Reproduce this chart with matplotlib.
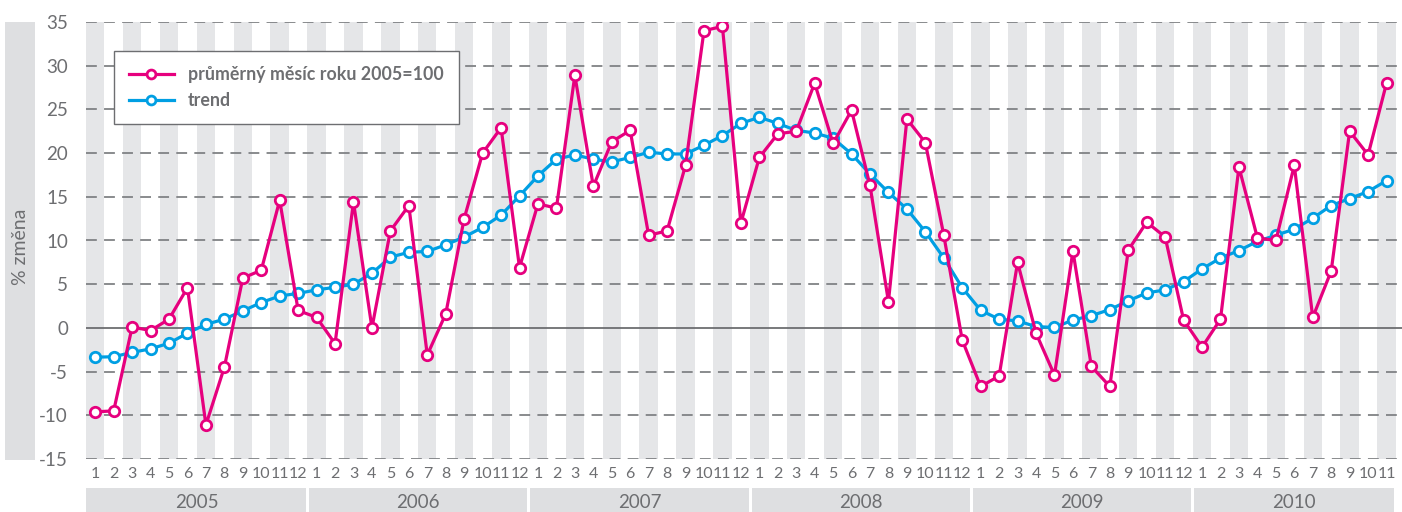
import matplotlib
matplotlib.use("Agg")
import matplotlib.pyplot as plt
from matplotlib.patches import Rectangle
from matplotlib.transforms import blended_transform_factory

years = ["2005", "2006", "2007", "2008", "2009", "2010"]
months_per_year = [12, 12, 12, 12, 12, 11]

index_series = [
    -9.6, -9.5, 0.1, -0.3, 1.0, 4.6, -11.1, -4.5, 5.7, 6.6, 14.6, 2.0,
    1.2, -1.8, 14.4, 0.0, 11.1, 14.0, -3.1, 1.6, 12.5, 20.0, 22.9, 6.9,
    14.2, 13.7, 28.9, 16.2, 21.3, 22.6, 10.6, 11.1, 18.6, 34.0, 34.5, 12.0,
    19.5, 22.2, 22.5, 28.0, 21.1, 24.9, 16.3, 3.0, 23.9, 21.2, 10.6, -1.4,
    -6.7, -5.5, 7.5, -0.6, -5.4, 8.8, -4.4, -6.7, 8.9, 12.1, 10.4, 0.9,
    -2.2, 1.0, 18.4, 10.3, 10.0, 18.6, 1.2, 6.5, 22.5, 19.8, 28.0,
]
trend_series = [
    -3.35, -3.3, -2.8, -2.4, -1.75, -0.6, 0.4, 1.0, 1.95, 2.9, 3.65, 3.95,
    4.35, 4.65, 5.0, 6.25, 8.1, 8.65, 8.75, 9.5, 10.4, 11.5, 12.9, 15.1,
    17.4, 19.3, 19.8, 19.3, 19.0, 19.5, 20.1, 19.9, 19.9, 20.9, 22.0, 23.4,
    24.1, 23.4, 22.6, 22.3, 21.7, 19.9, 17.6, 15.5, 13.6, 11.0, 8.0, 4.6,
    2.0, 1.0, 0.8, 0.15, 0.05, 0.9, 1.4, 2.1, 3.1, 4.0, 4.35, 5.3,
    6.75, 8.0, 8.85, 9.9, 10.6, 11.3, 12.55, 14.0, 14.8, 15.6, 16.85,
]
legend_labels = ["průměrný měsíc roku 2005=100", "trend"]
y_label = "% změna"

PINK = "#E6007E"
BLUE = "#009FE3"
STRIPE = "#E5E6E8"
BOX = "#DEDFE1"
TXT = "#6D6E71"

plt.rcParams['font.family'] = ['Lato', 'DejaVu Sans']

W, H = 1402, 512
fig = plt.figure(figsize=(W / 100, H / 100), dpi=100)
left, right, top, bottom = 86, 1402, 22, 459
ax = fig.add_axes([left / W, (H - bottom) / H, (right - left) / W, (bottom - top) / H])

n = len(index_series)
x = list(range(1, n + 1))
step = (1387 - 95.7) / 70.0
ax.set_xlim(0.5, 0.5 + (right - left) / step)
ax.set_ylim(-15, 35)

# stripes
for i in x:
    if i % 2 == 1:
        ax.axvspan(i - 0.5, i + 0.5, color=STRIPE, lw=0, zorder=0)

# gridlines
for yv in range(-15, 40, 5):
    if yv == 0:
        ax.axhline(yv, color="#6D6E71", lw=1.3, zorder=1)
    else:
        ax.axhline(yv, color="#808285", lw=1.3, dashes=(6, 4), zorder=1)

ax.plot(x, trend_series, color=BLUE, lw=2.3, marker="o", ms=7.5, mfc="white",
        mec=BLUE, mew=2.0, zorder=3, label=legend_labels[1])
ax.plot(x, index_series, color=PINK, lw=2.3, marker="o", ms=7.5, mfc="white",
        mec=PINK, mew=2.0, zorder=4, label=legend_labels[0])

for s in ax.spines.values():
    s.set_visible(False)

ax.set_yticks(range(-15, 40, 5))
ax.set_yticklabels([str(v) for v in range(-15, 40, 5)], fontsize=13.5, color=TXT)
ax.tick_params(axis="y", length=0, pad=13)

month_labels = []
for m in months_per_year:
    month_labels += [str(k) for k in range(1, m + 1)]
ax.set_xticks(x)
ax.set_xticklabels(month_labels, fontsize=11.5, color=TXT)
ax.tick_params(axis="x", length=0, pad=6)

# year boxes
tr = blended_transform_factory(ax.transData, fig.transFigure)
start = 0.5
for yr, m in zip(years, months_per_year):
    end = start + m
    gap = 0.08
    x0 = start + (gap if start > 0.5 else 0)
    x1 = end - gap
    fig.patches.append(Rectangle((x0, 0), x1 - x0, (H - 488) / H, transform=tr,
                                 facecolor=BOX, edgecolor="none", zorder=0))
    fig.text((start + end) / 2, (H - 502) / H, yr, transform=tr, ha="center",
             va="center", fontsize=13.5, color=TXT)
    start = end

# y label box
fig.patches.append(Rectangle((5 / W, (H - 460) / H), 30 / W, 438 / H,
                             transform=fig.transFigure, facecolor=BOX,
                             edgecolor="none", zorder=0))
fig.text(20 / W, (H - 247) / H, y_label, rotation=90, ha="center", va="center",
         fontsize=14, color=TXT)

# legend
handles, labels = ax.get_legend_handles_labels()
leg = ax.legend(handles[::-1], labels[::-1], loc="upper left",
                bbox_to_anchor=(114 / W, (H - 51) / H), bbox_transform=fig.transFigure,
                frameon=True, fancybox=False, framealpha=1, edgecolor="#6D6E71",
                fontsize=12.8, handlelength=2.5, handletextpad=0.8,
                borderpad=0.85, labelspacing=0.5, borderaxespad=0, markerscale=0.85)
leg.get_frame().set_linewidth(1.0)
for t in leg.get_texts():
    t.set_color(TXT)
    t.set_fontweight("bold")
leg.set_zorder(10)

fig.savefig("out.png", dpi=100)
